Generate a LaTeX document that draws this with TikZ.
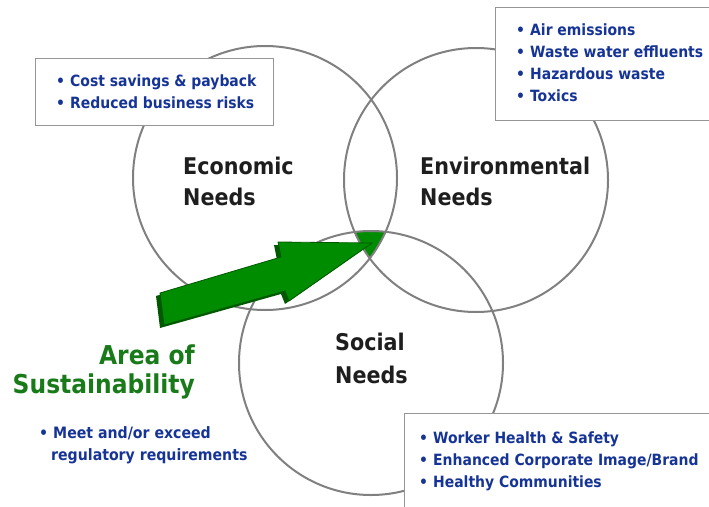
\documentclass[tikz,border=0pt]{standalone}
\usepackage{fontspec}
\setmainfont{DejaVu Sans Condensed}
\definecolor{ringgray}{RGB}{128,128,128}
\definecolor{boxgray}{RGB}{150,150,150}
\definecolor{textblue}{RGB}{22,52,150}
\definecolor{titleblack}{RGB}{30,30,30}
\definecolor{areagreen}{RGB}{25,122,25}
\definecolor{arrowgreen}{RGB}{0,140,0}
\definecolor{arrowdark}{RGB}{0,88,0}
\begin{document}
\begin{tikzpicture}[x=1pt,y=-1pt,
  ring/.style={draw=ringgray, line width=2pt, circle, minimum size=264pt, inner sep=0pt},
  infobox/.style={draw=boxgray, line width=1.1pt, fill=white, anchor=north west, inner sep=0pt},
  itemline/.style={anchor=base west, inner sep=0pt, text=textblue,
    font=\bfseries\fontsize{15.5}{20}\selectfont},
  title/.style={anchor=base west, inner sep=0pt, text=titleblack,
    font=\bfseries\fontsize{23}{28}\selectfont},
  areatitle/.style={anchor=base east, inner sep=0pt, text=areagreen,
    font=\bfseries\fontsize{26}{32}\selectfont}]
\useasboundingbox (0,0) rectangle (709,506);
\newcommand{\itembullet}{\makebox[14pt][l]{\textbullet}}

% common area of the three needs
\begin{scope}
  \clip (265,178) circle[radius=132pt];
  \clip (476,180) circle[radius=132pt];
  \fill[arrowgreen] (371,363) circle[radius=132pt];
\end{scope}

% the three circles
\node[ring] (eco) at (265,178) {};
\node[ring] (env) at (476,180) {};
\node[ring] (soc) at (371,363) {};

% circle titles
\node[title] (ecoA) at (183,174) {Economic};
\node[title] (ecoB) at (183,205) {Needs};
\node[title] (envA) at (420,174) {Environmental};
\node[title] (envB) at (420,205) {Needs};
\node[title] (socA) at (335,350) {Social};
\node[title] (socB) at (335,383) {Needs};

% info boxes
\node[infobox, minimum width=238pt, minimum height=67pt] (ecobox) at (35,58) {};
\node[infobox, minimum width=220pt, minimum height=113pt] (envbox) at (495,7) {};
\node[infobox, minimum width=310pt, minimum height=100pt] (socbox) at (404,413) {};

\node[itemline] (eco1) at (56,86) {\itembullet Cost savings \& payback};
\node[itemline] (eco2) at (56,108) {\itembullet Reduced business risks};

\node[itemline] (env1) at (516,35) {\itembullet Air emissions};
\node[itemline] (env2) at (516,57) {\itembullet Waste water effluents};
\node[itemline] (env3) at (516,79) {\itembullet Hazardous waste};
\node[itemline] (env4) at (516,101) {\itembullet Toxics};

\node[itemline] (soc1) at (419,443) {\itembullet Worker Health \& Safety};
\node[itemline] (soc2) at (419,465) {\itembullet Enhanced Corporate Image/Brand};
\node[itemline] (soc3) at (419,487) {\itembullet Healthy Communities};

% area of sustainability
\node[areatitle] (areaA) at (195,364) {Area of};
\node[areatitle] (areaB) at (195,393) {Sustainability};
\node[itemline, font=\bfseries\fontsize{15.7}{20}\selectfont] (reg1) at (39,438) {\itembullet Meet and/or exceed};
\node[itemline, font=\bfseries\fontsize{15.7}{20}\selectfont] (reg2) at (51,460) {regulatory requirements};

% block arrow pointing at the common area
\fill[arrowdark, shift={(-4,3)}]
  (160,293) -- (281,257) -- (278,242) -- (372,243) -- (289,301) -- (285,291) -- (164,325) -- cycle;
\filldraw[fill=arrowgreen, draw=arrowdark, line width=0.8pt]
  (160,293) -- (281,257) -- (278,242) -- (372,243) -- (289,301) -- (285,291) -- (164,325) -- cycle;
\end{tikzpicture}
\end{document}
